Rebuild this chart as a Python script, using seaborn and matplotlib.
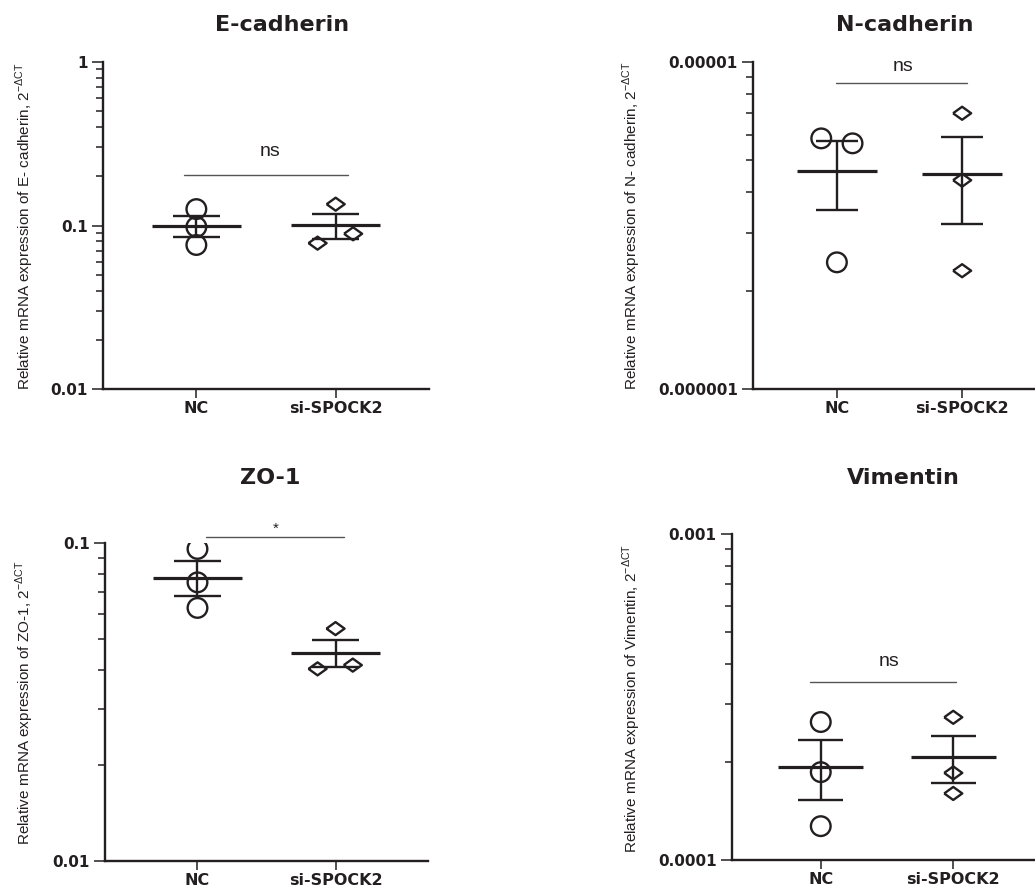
"""mRNA expression of EMT markers, NC vs si-SPOCK2 (mean ± SEM, log scale)."""

import matplotlib

matplotlib.use("Agg")
import matplotlib.pyplot as plt
import numpy as np
import pandas as pd
import seaborn as sns
from matplotlib.ticker import FixedLocator, LogLocator, NullFormatter

W, H = 1035, 890
INK = "#231f20"

GROUPS = ["NC", "si-SPOCK2"]

ECAD_NC = [0.126, 0.098, 0.076]
ECAD_SI = [0.135, 0.078, 0.089]
NCAD_NC = [5.84e-6, 5.64e-6, 2.44e-6]
NCAD_SI = [6.97e-6, 4.35e-6, 2.30e-6]
ZO1_NC = [0.0958, 0.0752, 0.0625]
ZO1_SI = [0.0538, 0.0402, 0.0413]
VIM_NC = [2.65e-4, 1.86e-4, 1.27e-4]
VIM_SI = [2.74e-4, 1.85e-4, 1.60e-4]

# side-by-side spread of replicates that would overlap (category units)
ECAD_SPREAD = ([0, 0, 0], [0, -0.13, 0.125])
NCAD_SPREAD = ([-0.125, 0.125, 0], [0, 0, 0])
ZO1_SPREAD = ([0, 0, 0], [0, -0.13, 0.125])
VIM_SPREAD = ([0, 0, 0], [0, 0, 0])

DIAMOND = [(-1, 0), (0, 0.72), (1, 0), (0, -0.72), (-1, 0)]


def px_rect(x0, y0, x1, y1):
    return [x0 / W, 1 - y1 / H, (x1 - x0) / W, (y1 - y0) / H]


PANELS = [
    dict(title="E-cadherin", nc=ECAD_NC, si=ECAD_SI, spread=ECAD_SPREAD,
         ylim=(0.01, 1), ticks=[0.01, 0.1, 1], ticklabels=["0.01", "0.1", "1"],
         gene="E- cadherin", rect=px_rect(103, 62, 429, 389),
         title_xy=(282, 25), label_xy=(25, 226),
         sig=("ns", -0.09, 1.088, 0.2046, 0.53, 0.283)),
    dict(title="N-cadherin", nc=NCAD_NC, si=NCAD_SI, spread=NCAD_SPREAD,
         ylim=(1e-6, 1e-5), ticks=[1e-6, 1e-5], ticklabels=["0.000001", "0.00001"],
         gene="N- cadherin", rect=px_rect(753, 62, 1046, 389),
         title_xy=(905, 25), label_xy=(632, 226),
         sig=("ns", -0.01, 1.04, 8.64e-6, 0.53, 9.72e-6)),
    dict(title="ZO-1", nc=ZO1_NC, si=ZO1_SI, spread=ZO1_SPREAD,
         ylim=(0.01, 0.1), ticks=[0.01, 0.1], ticklabels=["0.01", "0.1"],
         gene="ZO-1", rect=px_rect(105, 543, 428, 861),
         title_xy=(270, 478), label_xy=(25, 703),
         sig=("*", 0.064, 1.064, 0.1041, 0.57, 0.111)),
    dict(title="Vimentin", nc=VIM_NC, si=VIM_SI, spread=VIM_SPREAD,
         ylim=(1e-4, 1e-3), ticks=[1e-4, 1e-3], ticklabels=["0.0001", "0.001"],
         gene="Vimentin", rect=px_rect(732, 534, 1042, 860),
         title_xy=(903, 478), label_xy=(632, 698),
         sig=("ns", -0.083, 1.023, 3.51e-4, 0.516, 4.05e-4)),
]


def draw_panel(fig, p):
    ax = fig.add_axes(p["rect"])
    df = pd.DataFrame({
        "group": [GROUPS[0]] * len(p["nc"]) + [GROUPS[1]] * len(p["si"]),
        "value": p["nc"] + p["si"],
        "pos": [0 + d for d in p["spread"][0]] + [1 + d for d in p["spread"][1]],
    })

    for i, (grp, marker, size) in enumerate([(GROUPS[0], "o", 200), (GROUPS[1], DIAMOND, 170)]):
        sub = df[df["group"] == grp]
        sns.scatterplot(data=sub, x="pos", y="value", marker=marker, s=size,
                        facecolors="none", edgecolor=INK, linewidth=1.7,
                        ax=ax, zorder=3, legend=False)
        vals = np.array(sub["value"])
        mean = vals.mean()
        sem = vals.std(ddof=1) / np.sqrt(len(vals))
        ax.hlines(mean, i - 0.32, i + 0.32, color=INK, lw=2.3, zorder=4)
        ax.vlines(i, mean - sem, mean + sem, color=INK, lw=1.7, zorder=4)
        ax.hlines([mean - sem, mean + sem], i - 0.17, i + 0.17, color=INK, lw=1.7, zorder=4)

    text, x0, x1, ly, tx, ty = p["sig"]
    ax.plot([x0, x1], [ly, ly], color="#555555", lw=1.0, clip_on=False)
    ax.text(tx, ty, text, ha="center", va="center", color=INK,
            fontsize=14 if text == "ns" else 11,
            family=["Liberation Sans", "DejaVu Sans"])

    ax.set_yscale("log")
    ax.set_ylim(*p["ylim"])
    ax.set_xlim(-0.67, 1.67)
    ax.yaxis.set_major_locator(FixedLocator(p["ticks"]))
    ax.set_yticklabels(p["ticklabels"])
    ax.yaxis.set_minor_locator(LogLocator(base=10, subs=np.arange(2, 10)))
    ax.yaxis.set_minor_formatter(NullFormatter())
    ax.set_xticks([0, 1])
    ax.set_xticklabels(GROUPS)
    ax.set_xlabel("")
    ax.set_ylabel("")

    ax.tick_params(axis="y", which="major", length=8, width=1.1, pad=3,
                   labelsize=11, color=INK, labelcolor=INK)
    ax.tick_params(axis="y", which="minor", length=5, width=1.1, color=INK)
    ax.tick_params(axis="x", length=6.5, width=1.1, pad=2, labelsize=11.5,
                   color=INK, labelcolor=INK)
    for lab in ax.get_xticklabels() + ax.get_yticklabels():
        lab.set_fontweight("bold")
    sns.despine(ax=ax)
    for side in ("left", "bottom"):
        ax.spines[side].set_linewidth(1.7)
        ax.spines[side].set_color(INK)
    ax.patch.set_alpha(0)

    tx, ty = p["title_xy"]
    fig.text(tx / W, 1 - ty / H, p["title"], ha="center", va="center",
             fontsize=16, fontweight="bold", color=INK)
    lx, ly = p["label_xy"]
    fig.text(lx / W, 1 - ly / H,
             f"Relative mRNA expression of {p['gene']}, 2$^{{\\mathregular{{-ΔCT}}}}$",
             rotation=90, ha="center", va="center", fontsize=11, color=INK,
             family=["Liberation Sans", "DejaVu Sans"])


def main():
    sns.set_theme(style="ticks")
    plt.rcParams["font.family"] = ["DejaVu Sans"]
    fig = plt.figure(figsize=(W / 100, H / 100), dpi=100)
    fig.patch.set_facecolor("white")
    for p in PANELS:
        draw_panel(fig, p)
    fig.savefig("out.png", dpi=100)
    plt.close(fig)


if __name__ == "__main__":
    main()
